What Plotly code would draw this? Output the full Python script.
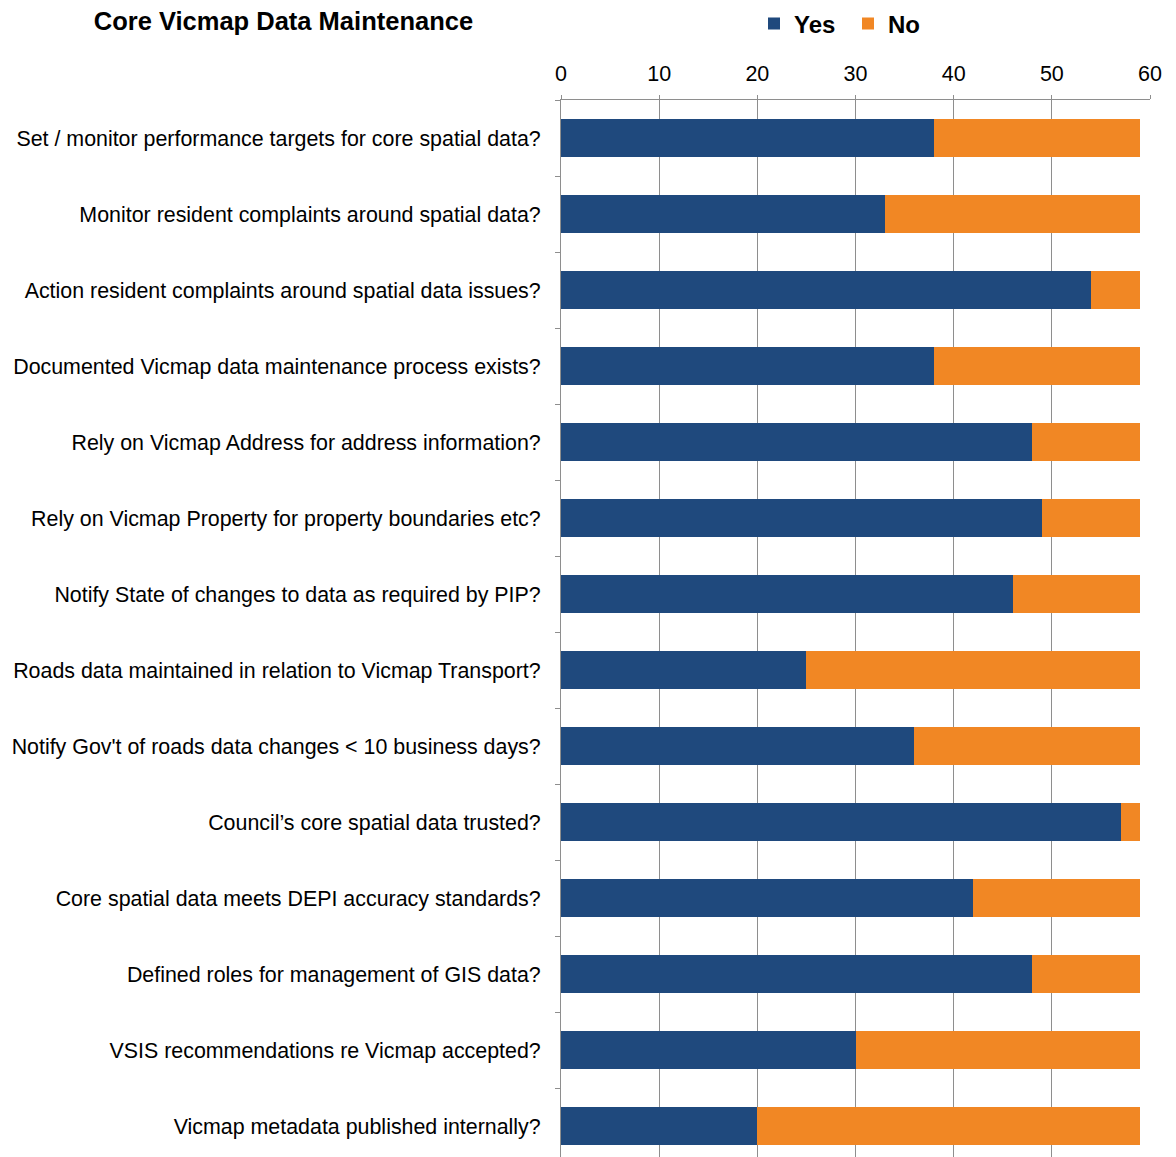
import plotly.graph_objects as go

categories = [
    "Set / monitor performance targets for core spatial data?",
    "Monitor resident complaints around spatial data?",
    "Action resident complaints around spatial data issues?",
    "Documented Vicmap data maintenance process exists?",
    "Rely on Vicmap Address for address information?",
    "Rely on Vicmap Property for property boundaries etc?",
    "Notify State of changes to data as required by PIP?",
    "Roads data maintained in relation to Vicmap Transport?",
    "Notify Gov't of roads data changes < 10 business days?",
    "Council\u2019s core spatial data trusted?",
    "Core spatial data meets DEPI accuracy standards?",
    "Defined roles for management of GIS data?",
    "VSIS recommendations re Vicmap accepted?",
    "Vicmap metadata published internally?",
]
yes_values = [38, 33, 54, 38, 48, 49, 46, 25, 36, 57, 42, 48, 30, 20]
no_values = [21, 26, 5, 21, 11, 10, 13, 34, 23, 2, 17, 11, 29, 39]
x_ticks = [0, 10, 20, 30, 40, 50, 60]

FONT = "Liberation Sans, Arial, sans-serif"
NAVY = "#1F497D"
ORANGE = "#F18724"
GRID = "#8E8E8E"

fig = go.Figure()
fig.add_trace(go.Bar(y=categories, x=yes_values, name="Yes", orientation="h",
                     marker=dict(color=NAVY, line=dict(width=0)),
                     legend="legend", showlegend=True))
fig.add_trace(go.Bar(y=categories, x=no_values, name="No", orientation="h",
                     marker=dict(color=ORANGE, line=dict(width=0)),
                     legend="legend2", showlegend=True))

legend_common = dict(orientation="h", xref="container", yref="container",
                     xanchor="left", y=1 - 24 / 1157, yanchor="middle",
                     font=dict(family=FONT, size=24, color="black", weight="bold"),
                     itemwidth=30, bgcolor="rgba(0,0,0,0)", visible=True)

n = len(categories)
fig.update_layout(
    width=1176, height=1157,
    showlegend=True,
    barmode="stack", bargap=0.51,
    plot_bgcolor="white", paper_bgcolor="white",
    margin=dict(l=561, r=26, t=100, b=0),
    font=dict(family=FONT, size=21, color="black"),
    title=dict(text="<b>Core Vicmap Data Maintenance</b>", x=0.241, xanchor="center",
               y=1 - 21 / 1157, yanchor="middle", xref="container", yref="container",
               font=dict(family=FONT, size=25.5, color="black")),
    legend=dict(x=754 / 1176, **legend_common),
    legend2=dict(x=848 / 1176, **legend_common),
    xaxis=dict(side="top", range=[0, 60], tickvals=x_ticks,
               showgrid=True, gridcolor=GRID, gridwidth=1,
               showline=True, linecolor=GRID, linewidth=1,
               ticks="outside", ticklen=4, tickcolor=GRID,
               ticklabelstandoff=5,
               tickfont=dict(family=FONT, size=21.5, color="black"),
               zeroline=False, fixedrange=True),
    yaxis=dict(type="category", categoryorder="array", categoryarray=categories,
               range=[n - 0.5 - 7 / 76, -0.5],
               showline=True, linecolor=GRID, linewidth=1,
               ticks="outside", ticklen=5, tickcolor=GRID, tickson="boundaries",
               ticklabelstandoff=15,
               tickfont=dict(family=FONT, size=21.4, color="black"),
               showgrid=False, fixedrange=True),
)

fig.write_html("out.html")
